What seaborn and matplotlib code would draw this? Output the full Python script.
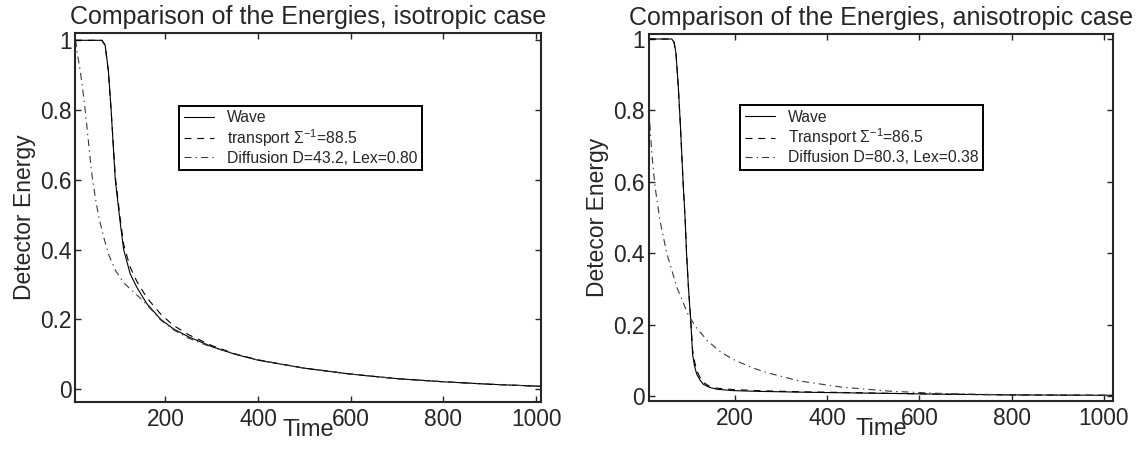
import matplotlib
matplotlib.use("Agg")
import matplotlib.pyplot as plt
import seaborn as sns
import pandas as pd

# isotropic case (left panel)
wave_iso_t = [5, 40, 63, 70, 77, 83, 92, 102, 110, 124, 138, 160, 190, 217, 250, 300, 350, 400, 500, 600, 700, 800, 900, 1010]
wave_iso_e = [1.0, 1.0, 1.0, 0.987, 0.915, 0.80, 0.60, 0.484, 0.40, 0.331, 0.293, 0.245, 0.20, 0.173, 0.15, 0.122, 0.10, 0.083, 0.06, 0.043, 0.03, 0.021, 0.014, 0.008]
trans_iso_e = [1.0, 1.0, 1.0, 0.985, 0.91, 0.80, 0.61, 0.495, 0.415, 0.35, 0.31, 0.262, 0.215, 0.183, 0.156, 0.125, 0.101, 0.084, 0.06, 0.043, 0.03, 0.021, 0.014, 0.008]
diff_iso_t = [5, 7, 10, 16, 21, 27, 33, 38, 43, 51, 58, 67, 77, 92, 110, 130, 145, 160, 190, 220, 250, 300, 400, 500, 600, 700, 800, 900, 1010]
diff_iso_e = [1.0, 0.995, 0.963, 0.915, 0.867, 0.80, 0.724, 0.657, 0.60, 0.532, 0.484, 0.436, 0.388, 0.341, 0.305, 0.28, 0.262, 0.242, 0.198, 0.168, 0.146, 0.12, 0.083, 0.06, 0.043, 0.03, 0.021, 0.014, 0.008]

# anisotropic case (right panel)
wave_an_t = [13, 40, 63, 68, 72, 77, 81, 84.5, 88, 92, 95, 99, 104, 108, 112, 117, 124, 131, 145, 160, 196, 250, 330, 430, 550, 650, 800, 1020]
wave_an_e = [1.0, 1.0, 1.0, 0.99, 0.96, 0.866, 0.772, 0.679, 0.585, 0.492, 0.398, 0.304, 0.211, 0.117, 0.085, 0.061, 0.045, 0.033, 0.024, 0.019, 0.015, 0.013, 0.011, 0.009, 0.007, 0.005, 0.003, 0.002]
trans_an_e = [1.0, 1.0, 1.0, 0.99, 0.96, 0.866, 0.772, 0.679, 0.585, 0.492, 0.398, 0.304, 0.215, 0.13, 0.098, 0.072, 0.052, 0.038, 0.027, 0.022, 0.018, 0.015, 0.012, 0.01, 0.007, 0.005, 0.003, 0.002]
diff_an_t = [13, 16, 19.5, 26.7, 37.5, 52, 74, 99, 117, 140, 170, 200, 240, 270, 340, 430, 540, 650, 800, 1020]
diff_an_e = [0.81, 0.75, 0.68, 0.585, 0.49, 0.40, 0.304, 0.226, 0.19, 0.155, 0.122, 0.10, 0.078, 0.065, 0.042, 0.025, 0.013, 0.007, 0.003, 0.001]

iso_labels = ["Wave", r"transport $\Sigma^{-1}$=88.5", "Diffusion D=43.2, Lex=0.80"]
an_labels = ["Wave", r"Transport $\Sigma^{-1}$=86.5", "Diffusion D=80.3, Lex=0.38"]
x_ticks = [200, 400, 600, 800, 1000]
y_ticks = [0, 0.2, 0.4, 0.6, 0.8, 1]


def to_frame(labels, curves):
    parts = []
    for lab, (t, e) in zip(labels, curves):
        parts.append(pd.DataFrame({"Time": t, "Energy": e, "model": lab}))
    return pd.concat(parts, ignore_index=True)


def draw_panel(ax, df, labels, title, ylabel, xlim, ylim, anchor):
    dashes = {labels[0]: "", labels[1]: (5, 4.2), labels[2]: (5, 3, 1, 3)}
    colors = {labels[0]: "black", labels[1]: "black", labels[2]: "#3a3a3a"}
    sns.lineplot(data=df, x="Time", y="Energy", hue="model", style="model",
                 palette=colors, dashes=dashes, sort=False, estimator=None,
                 linewidth=0.8, ax=ax)
    ax.set_xlim(*xlim); ax.set_ylim(*ylim)
    ax.set_xticks(x_ticks)
    ax.set_yticks(y_ticks)
    ax.set_yticklabels([f"{v:g}" for v in y_ticks])
    ax.tick_params(direction="in", top=True, right=True, length=4.5, width=1.0,
                   labelsize=16.4)
    ax.tick_params(axis="x", pad=4.5)
    ax.tick_params(axis="y", pad=2.5)
    for s in ax.spines.values():
        s.set_linewidth(1.5)
    ax.set_title(title, fontsize=18, pad=6.5)
    ax.set_xlabel("Time", fontsize=17, labelpad=-9)
    ax.set_ylabel(ylabel, fontsize=16.5, labelpad=3)
    h, l = ax.get_legend_handles_labels()
    leg = ax.legend(h, l, loc="upper left", bbox_to_anchor=anchor, borderaxespad=0,
                    fontsize=11.3, frameon=True, fancybox=False, framealpha=1,
                    edgecolor="black", handlelength=1.95, handletextpad=0.8,
                    borderpad=0.3, labelspacing=0.12)
    leg.get_frame().set_linewidth(1.4)


sns.set_theme(context="paper", style="ticks")
plt.rcParams["font.family"] = ["Liberation Sans", "DejaVu Sans"]
plt.rcParams["mathtext.fontset"] = "custom"
plt.rcParams["mathtext.rm"] = "Liberation Sans"
plt.rcParams["mathtext.it"] = "Liberation Sans:italic"
plt.rcParams["lines.scale_dashes"] = False

fig = plt.figure(figsize=(11.36, 4.51), dpi=100)
ax1 = fig.add_axes([0.066, 0.1086, 0.410, 0.8175])
ax2 = fig.add_axes([0.5709, 0.1109, 0.4090, 0.8137])

df_iso = to_frame(iso_labels, [(wave_iso_t, wave_iso_e), (wave_iso_t, trans_iso_e), (diff_iso_t, diff_iso_e)])
df_an = to_frame(an_labels, [(wave_an_t, wave_an_e), (wave_an_t, trans_an_e), (diff_an_t, diff_an_e)])

draw_panel(ax1, df_iso, iso_labels, "Comparison of the Energies, isotropic case",
           "Detector Energy", (5, 1010), (-0.037, 1.02), (0.223, 0.804))
draw_panel(ax2, df_an, an_labels, "Comparison of the Energies, anisotropic case",
           "Detecor Energy", (12.5, 1020), (-0.014, 1.014), (0.197, 0.806))

fig.savefig("out.png", dpi=100)
plt.close(fig)
